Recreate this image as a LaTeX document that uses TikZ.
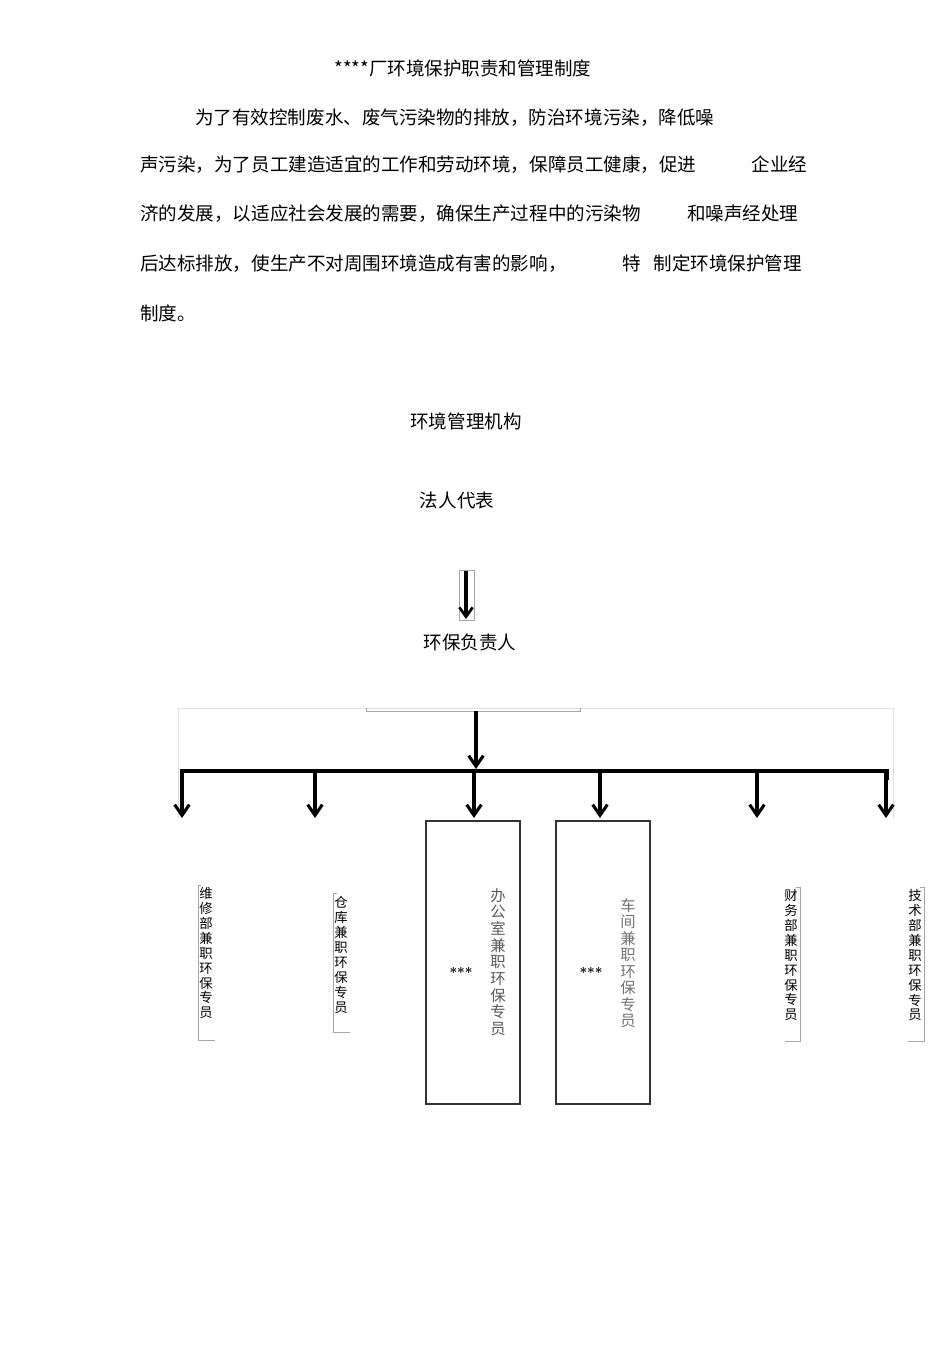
\documentclass[tikz,border=0pt]{standalone}
\usepackage{fontspec}
\newfontfamily\cjk{Noto Sans CJK SC}
\usetikzlibrary{arrows.meta}
\begin{document}
\begin{tikzpicture}[x=0.75pt,y=-0.75pt,
  txt/.style={font=\cjk\fontsize{13.9}{16}\selectfont,inner sep=0pt,anchor=west},
  vt/.style={font=\cjk\fontsize{10}{11.2}\selectfont,align=center,inner sep=0pt,anchor=north},
  thick arrow/.style={line width=2.6pt,-{Straight Barb[length=8pt,width=11pt,line width=2.3pt]}},
  thin/.style={draw=gray!70,line width=0.6pt},
  bx/.style={draw=black!80,line width=0.9pt}]
\useasboundingbox (0,0) rectangle (950,1345);
\node[txt,anchor=center] (title) at (463,68) {****厂环境保护职责和管理制度};
\node[txt] (l1) at (195,118) {为了有效控制废水、废气污染物的排放，防治环境污染，降低噪};
\node[txt] (l2) at (140,165) {声污染，为了员工建造适宜的工作和劳动环境，保障员工健康，促进\hspace{3em}企业经};
\node[txt] (l3) at (140,214) {济的发展，以适应社会发展的需要，确保生产过程中的污染物\hspace{2.5em}和噪声经处理};
\node[txt] (l4) at (140,264) {后达标排放，使生产不对周围环境造成有害的影响，\hspace{3em}特\hspace{0.7em}制定环境保护管理};
\node[txt] (l5) at (140,313) {制度。};
\node[txt,anchor=center] (org) at (466,421) {环境管理机构};
\node[txt,anchor=center] (fr) at (457,500) {法人代表};
\node[txt,anchor=center] (hb) at (470,642) {环保负责人};
% small arrow
\draw[thin] (459,570) rectangle (474,620);
\coordinate (sa1) at (466,571);
\coordinate (sa2) at (466,619);
\draw[line width=2.4pt,-{Straight Barb[length=7pt,width=10pt,line width=2pt]}] (sa1) -- (sa2);
% outer light bracket
\draw[draw=gray!25,line width=0.5pt] (178,818) -- (178,708) -- (893,708) -- (893,818);
\draw[thin] (366,708) -- (366,711) -- (580,711) -- (580,708);
\coordinate (top) at (476,711);
\coordinate (bus) at (476,769);
\draw[thick arrow] (top) -- (bus);
\draw[line width=2.6pt] (182,780) -- (182,771) -- (887,771) -- (887,780);
\foreach \x/\n in {182/a,315/b,474/c,600/d,757/e,886/f}{
  \coordinate (s\n) at (\x,772);
  \coordinate (t\n) at (\x,818);
  \draw[thick arrow] (s\n) -- (t\n);
}
% boxes
\draw[bx] (426,821) rectangle (520,1104);
\draw[bx] (556,821) rectangle (650,1104);
\node[font=\bfseries] (s1) at (461,972) {***};
\node[font=\bfseries] (s2) at (591,972) {***};
\node[vt,text=black!65,font=\cjk\fontsize{11.5}{12.5}\selectfont] (v3) at (498,888) {办\\公\\室\\兼\\职\\环\\保\\专\\员};
\node[vt,text=black!55,font=\cjk\fontsize{11.5}{12.4}\selectfont] (v4) at (628,898) {车\\间\\兼\\职\\环\\保\\专\\员};
% side labels
\node[vt] (v1) at (206,887) {维\\修\\部\\兼\\职\\环\\保\\专\\员};
\draw[thin] (198,885) -- (198,1040) -- (215,1040); \draw[thin] (198,885)--(201,885);
\node[vt] (v2) at (341,896) {仓\\库\\兼\\职\\环\\保\\专\\员};
\draw[thin] (333,893) -- (333,1032) -- (350,1032); \draw[thin] (333,893)--(337,893);
\node[vt] (v5) at (791,889) {财\\务\\部\\兼\\职\\环\\保\\专\\员};
\draw[thin] (800,887) -- (800,1041) -- (785,1041); \draw[thin] (800,887)--(796,887);
\node[vt] (v6) at (915,889) {技\\术\\部\\兼\\职\\环\\保\\专\\员};
\draw[thin] (924,887) -- (924,1041) -- (908,1041); \draw[thin] (924,887)--(920,887);
\end{tikzpicture}
\end{document}
